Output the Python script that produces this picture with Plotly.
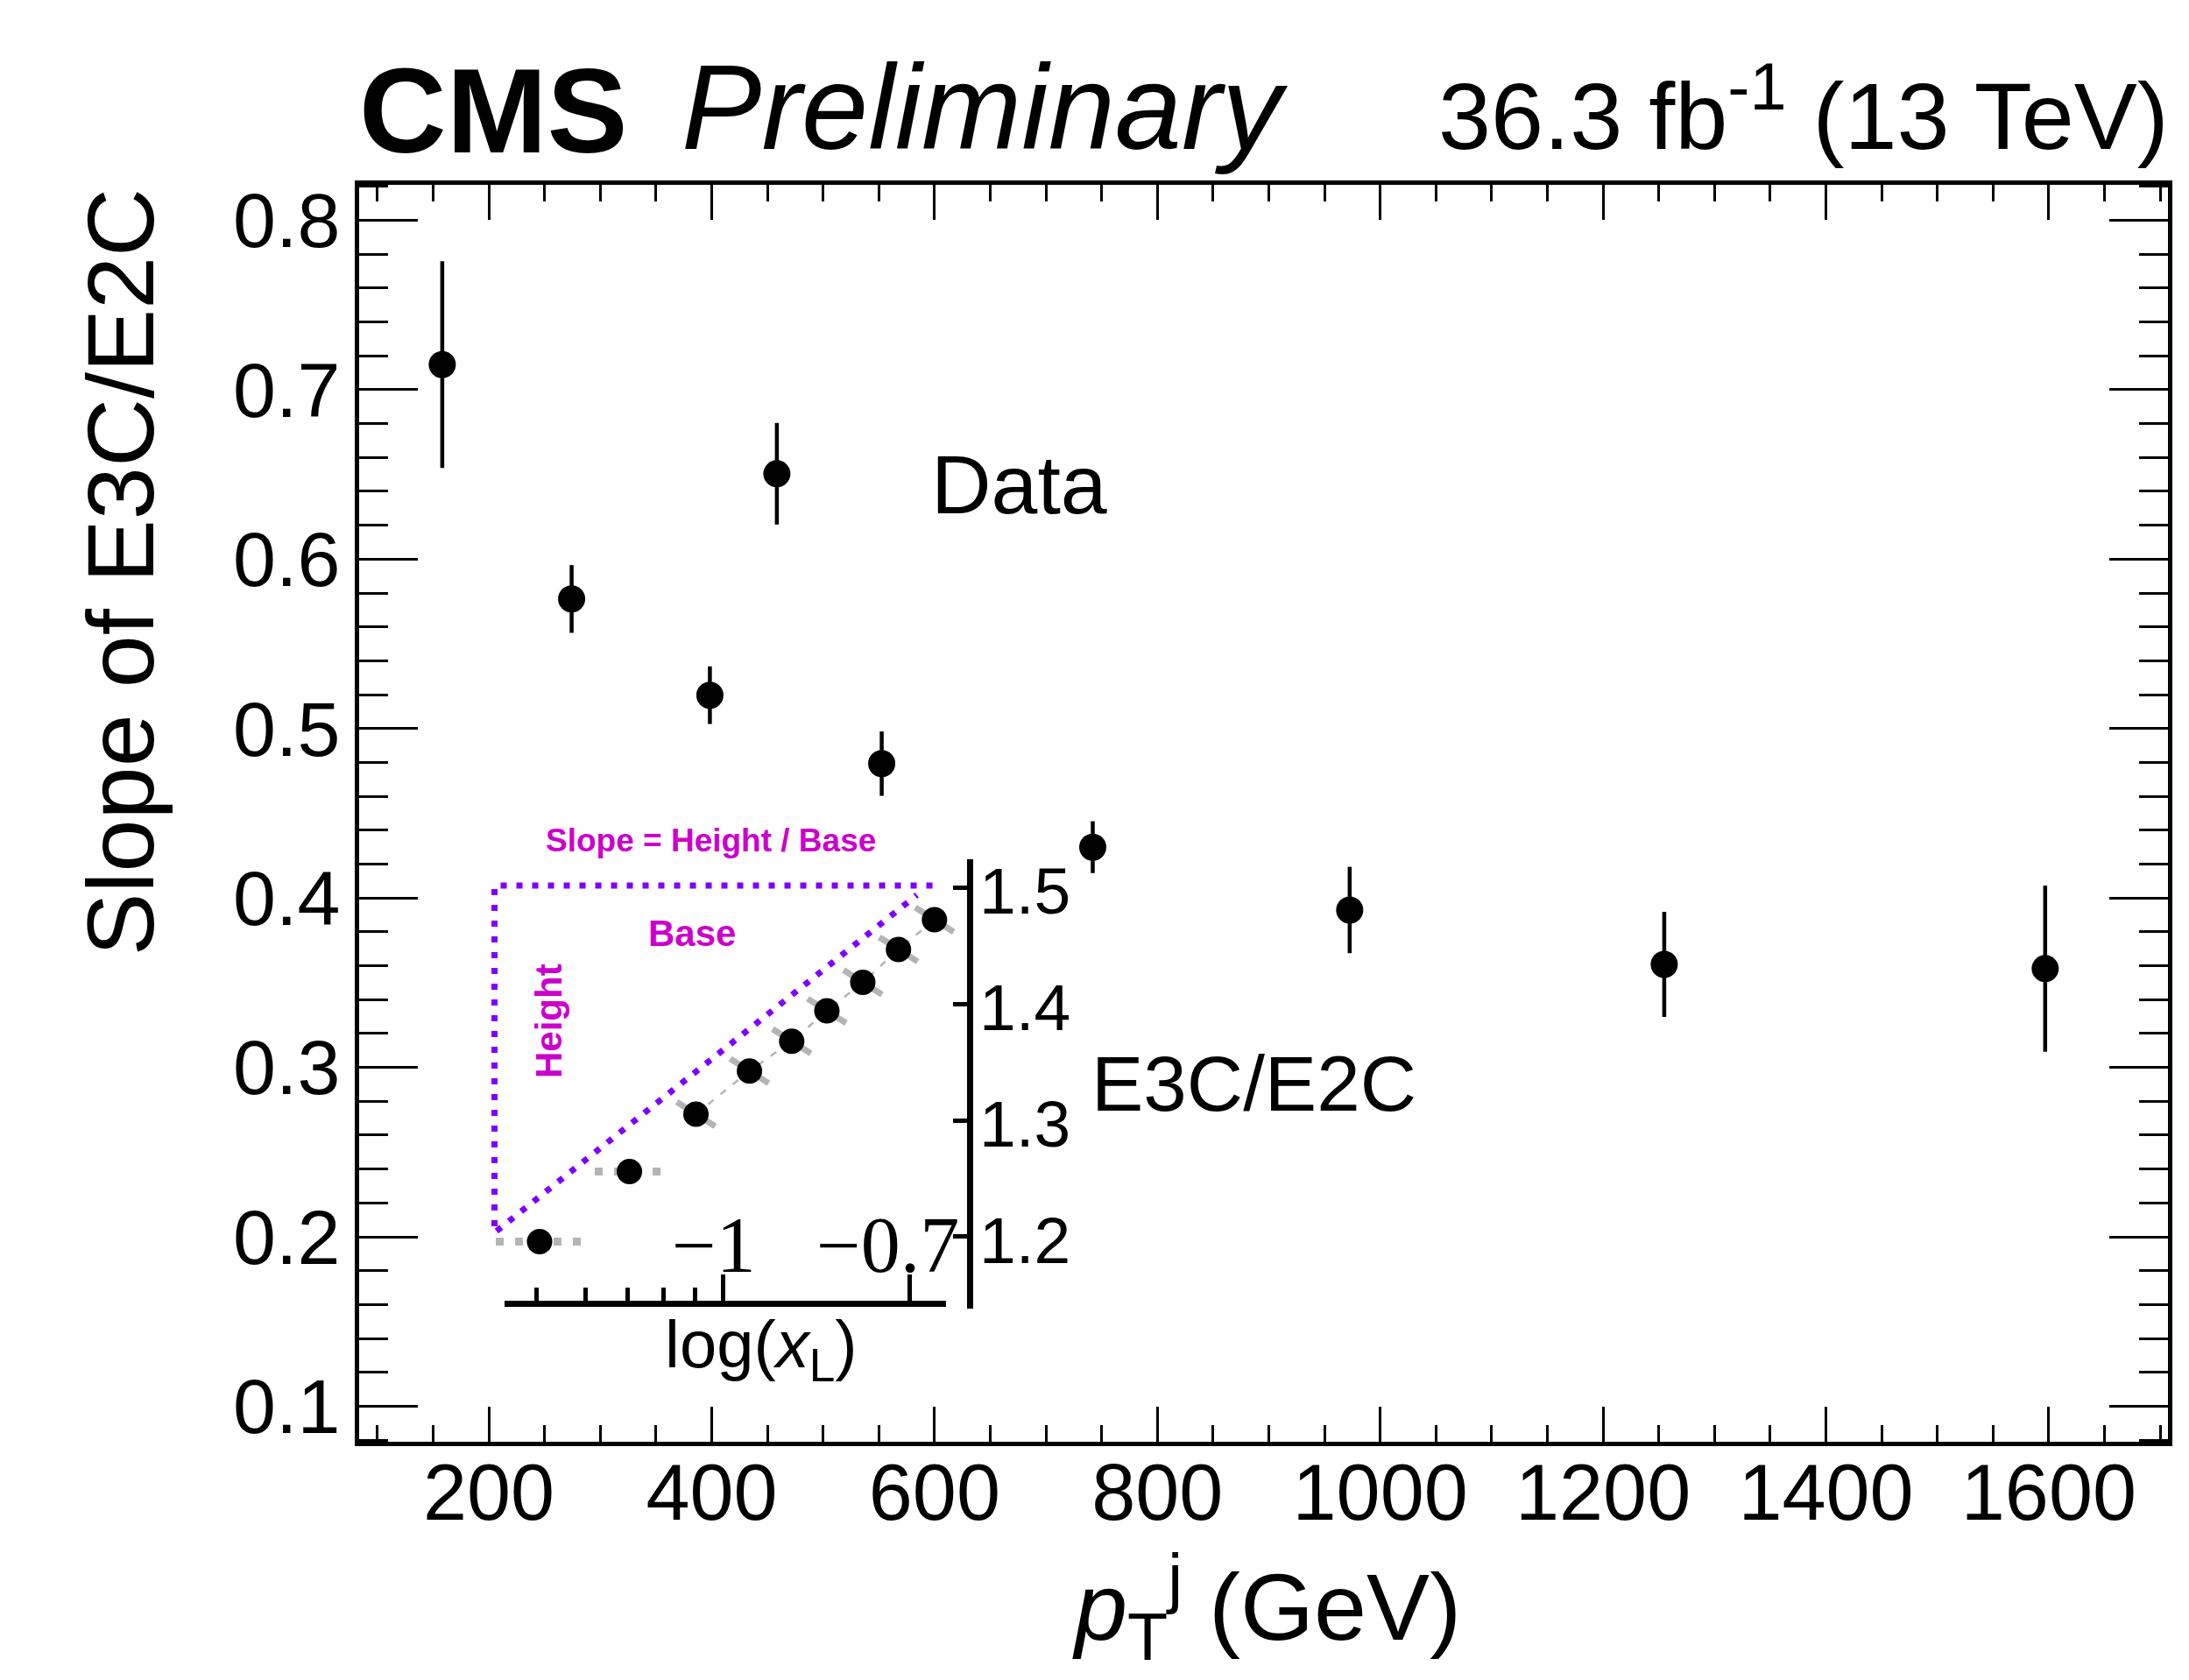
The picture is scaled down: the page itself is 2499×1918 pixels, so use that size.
import plotly.graph_objects as go

W, H = 2499, 1918
SANS = "Liberation Sans, Arial, Helvetica, sans-serif"
SERIF = "Liberation Serif, Times New Roman, serif"
MAGENTA = "#CC00CC"
VIOLET = "#7F00FF"
GRAY = "#B4B4B4"

# ---------------- main data ----------------
pt_gev = [158.2, 274.3, 398.4, 458.5, 552.6, 742.0, 972.6, 1254.9, 1596.8]
slope = [0.7148, 0.5765, 0.5197, 0.6504, 0.4793, 0.4300, 0.3929, 0.3608, 0.3583]
slope_err = [0.061, 0.020, 0.017, 0.030, 0.019, 0.0153, 0.0255, 0.031, 0.049]

# ---------------- inset data ----------------
log_xl = [-1.2966, -1.1515, -1.0441, -0.9577, -0.8895, -0.8327, -0.7747, -0.7171, -0.6590]
ratio = [1.1957, 1.2560, 1.3053, 1.3424, 1.3679, 1.3940, 1.4185, 1.4468, 1.4723]
# gray dotted bin bars for first two points (x extents)
gray_bar_lo = [-1.3673, -1.2075]
gray_bar_hi = [-1.2301, -1.1000]
# gray slanted stubs for the remaining points (half extents in x / y)
stub_dx = 0.031
stub_dy = 0.0105
# slope-illustration triangle
tri_top_x = [-0.6622, -1.3694, -1.3694]
tri_top_y = [1.5017, 1.5017, 1.2048]
tri_diag_x = [-1.3662, -0.6874]
tri_diag_y = [1.2048, 1.4935]

inset_major_ticks = [-1.0, -0.699]
inset_major_text = ["\u22121", "\u22120.7"]
inset_major_label_shift = [-11, -25]
inset_minor_ticks = [-1.301, -1.222, -1.155, -1.097, -1.046]
inset_y_ticks = [1.2, 1.3, 1.4, 1.5]


def px(x):
    return x / W


def py(y):
    return 1 - y / H


# inset pixel calibration (layout only)
X_M1, X_PPU = 825.7, 707.0
Y_15, Y_PPU = 1013.2, 1329.0


def xv(fx):
    return -1 + (fx - X_M1) / X_PPU


def yv(fy):
    return 1.5 - (fy - Y_15) / Y_PPU


fig = go.Figure()

# main data points
fig.add_trace(go.Scatter(
    x=pt_gev, y=slope, mode="markers",
    marker=dict(color="black", size=31, line=dict(width=0)),
    error_y=dict(type="data", array=slope_err, color="black", thickness=4.5, width=0),
    xaxis="x", yaxis="y", showlegend=False, cliponaxis=False))

# inset gray bars (first two points)
gx, gy = [], []
for lo, hi, yy in zip(gray_bar_lo, gray_bar_hi, ratio[:2]):
    gx += [lo, hi, None]
    gy += [yy, yy, None]
fig.add_trace(go.Scatter(x=gx, y=gy, mode="lines",
                         line=dict(color=GRAY, width=9, dash="9px,13px"),
                         xaxis="x2", yaxis="y2", showlegend=False))
# thin gray dashed guide through points
fig.add_trace(go.Scatter(x=log_xl[2:], y=ratio[2:], mode="lines",
                         line=dict(color=GRAY, width=2.5, dash="8px,10px"),
                         xaxis="x2", yaxis="y2", showlegend=False))
# slanted stubs
sx, sy = [], []
for xx, yy in zip(log_xl[2:], ratio[2:]):
    sx += [xx - stub_dx, xx + stub_dx, None]
    sy += [yy + stub_dy, yy - stub_dy, None]
fig.add_trace(go.Scatter(x=sx, y=sy, mode="lines",
                         line=dict(color=GRAY, width=7),
                         xaxis="x2", yaxis="y2", showlegend=False))

# slope triangle
fig.add_trace(go.Scatter(x=tri_top_x, y=tri_top_y, mode="lines",
                         line=dict(color=VIOLET, width=7, dash="7px,11px"),
                         xaxis="x2", yaxis="y2", showlegend=False))
fig.add_trace(go.Scatter(x=tri_diag_x, y=tri_diag_y, mode="lines",
                         line=dict(color=VIOLET, width=7, dash="7px,11px"),
                         xaxis="x2", yaxis="y2", showlegend=False))

# inset points on the visible inset axes
fig.add_trace(go.Scatter(x=log_xl, y=ratio, mode="markers",
                         marker=dict(color="black", size=29, line=dict(width=0)),
                         xaxis="x3", yaxis="y3", showlegend=False, cliponaxis=False))

common = dict(showgrid=False, zeroline=False, automargin=False)

fig.update_layout(
    template="none",
    width=W, height=H,
    margin=dict(l=0, r=0, t=0, b=0, pad=0),
    paper_bgcolor="white", plot_bgcolor="rgba(0,0,0,0)",
    showlegend=False,
    xaxis=dict(
        domain=[px(410), px(2475)], range=[83.6, 1707], anchor="y",
        tickmode="linear", tick0=0, dtick=200,
        ticks="inside", ticklen=40, tickwidth=3, tickcolor="black",
        minor=dict(dtick=50, tick0=0, ticks="inside", ticklen=19, tickwidth=3, tickcolor="black", showgrid=False),
        showline=True, linewidth=5, linecolor="black", mirror="allticks",
        tickfont=dict(family=SANS, size=90, color="black"), ticklabelstandoff=-24, **common),
    yaxis=dict(
        domain=[py(1645.5), py(210.5)], range=[0.0793, 0.8212], anchor="x",
        tickmode="linear", tick0=0, dtick=0.1, tickformat=".1f",
        ticks="inside", ticklen=67, tickwidth=3, tickcolor="black",
        minor=dict(dtick=0.02, tick0=0, ticks="inside", ticklen=33, tickwidth=3, tickcolor="black", showgrid=False),
        showline=True, linewidth=5, linecolor="black", mirror="allticks",
        tickfont=dict(family=SANS, size=88, color="black"), ticklabelstandoff=-1, **common),
    # hidden drawing area for inset (same scale as visible inset axes)
    xaxis2=dict(domain=[px(540), px(1110)], range=[xv(540), xv(1110)], anchor="y2",
                visible=False, **common),
    yaxis2=dict(domain=[py(1510), py(930)], range=[yv(1510), yv(930)], anchor="x2",
                visible=False, **common),
    # visible inset axes
    xaxis3=dict(domain=[px(576), px(1080)], range=[xv(576), xv(1080)],
                anchor="free", position=py(1488), side="bottom",
                tickmode="array", tickvals=inset_major_ticks,
                ticks="inside", ticklen=30, tickwidth=5, tickcolor="black",
                minor=dict(tickmode="array", tickvals=inset_minor_ticks, ticks="inside",
                           ticklen=15, tickwidth=5, tickcolor="black", showgrid=False),
                showticklabels=False,
                showline=True, linewidth=7, linecolor="black", **common),
    yaxis3=dict(domain=[py(1494.3), py(980.7)], range=[yv(1494.3), yv(980.7)],
                anchor="free", position=px(1107), side="right",
                tickmode="array", tickvals=inset_y_ticks, tickformat=".1f",
                ticks="inside", ticklen=16, tickwidth=5, tickcolor="black",
                ticklabelstandoff=-8, ticklabelshift=4,
                tickfont=dict(family=SANS, size=75, color="black"),
                showline=True, linewidth=7, linecolor="black", **common),
)

ann = []
# header
ann.append(dict(text="<b>CMS</b>", x=px(408), y=py(204.5), xanchor="left", yanchor="bottom",
                font=dict(family=SANS, size=138, color="black")))
ann.append(dict(text="<i>Preliminary</i>", x=px(776), y=py(200.5), xanchor="left", yanchor="bottom",
                font=dict(family=SANS, size=137, color="black")))
ann.append(dict(text="36.3 fb<sup>-1</sup> (13 TeV)", x=px(2478), y=py(195.5), xanchor="right", yanchor="bottom",
                font=dict(family=SANS, size=108, color="black")))
# axis titles
ann.append(dict(text="<i>p</i><sub>T</sub><sup>j</sup> (GeV)", x=px(1446), y=py(1913), xanchor="center",
                yanchor="bottom", font=dict(family=SANS, size=108, color="black")))
ann.append(dict(text="Slope of E3C/E2C", x=px(137), y=py(653.5), xanchor="center", yanchor="middle",
                textangle=-90, font=dict(family=SANS, size=108, color="black")))
# labels
ann.append(dict(text="Data", x=px(1163), y=py(608), xanchor="center", yanchor="bottom",
                font=dict(family=SANS, size=95, color="black")))
ann.append(dict(text="E3C/E2C", x=px(1244), y=py(1289), xanchor="left", yanchor="bottom",
                font=dict(family=SANS, size=89, color="black")))
ann.append(dict(text="log(<i>x</i><sub>L</sub>)", x=px(869), y=py(1490), xanchor="center", yanchor="top",
                font=dict(family=SANS, size=76, color="black")))
ann.append(dict(text="<b>Slope = Height / Base</b>", x=px(811), y=py(982), xanchor="center", yanchor="bottom",
                font=dict(family=SANS, size=37, color=MAGENTA)))
ann.append(dict(text="<b>Base</b>", x=px(790), y=py(1091), xanchor="center", yanchor="bottom",
                font=dict(family=SANS, size=42, color=MAGENTA)))
ann.append(dict(text="<b>Height</b>", x=px(626), y=py(1165), xanchor="center", yanchor="middle",
                textangle=-90, font=dict(family=SANS, size=42, color=MAGENTA)))
for a in ann:
    a.update(xref="paper", yref="paper", showarrow=False)

# inset x tick labels (serif, above the inset axis), placed at tick values
for tv, tt, sh in zip(inset_major_ticks, inset_major_text, inset_major_label_shift):
    ann.append(dict(text=tt, x=tv, xref="x3", y=py(1421), yref="paper", xshift=sh,
                    xanchor="center", yanchor="middle", showarrow=False,
                    font=dict(family=SERIF, size=90, color="black")))

fig.update_layout(annotations=ann)

fig.write_html("out.html", config={"displayModeBar": False},
               post_script="document.body.style.margin='0';document.body.style.overflow='hidden';")
